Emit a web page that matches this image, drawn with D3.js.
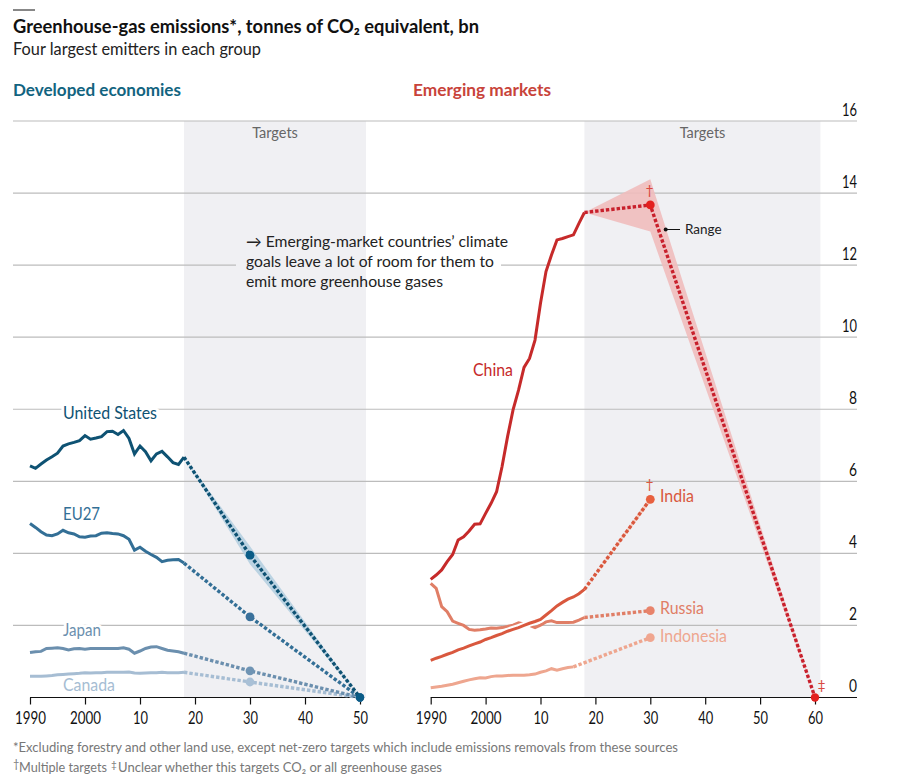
<!DOCTYPE html>
<html>
<head>
<meta charset="utf-8">
<script src="https://cdn.jsdelivr.net/npm/d3@7"></script>
<style>
  html, body { margin: 0; padding: 0; background: #fff; }
  svg { display: block; }
  text { font-family: "Lato", "Noto Sans", sans-serif; }
</style>
</head>
<body>
<div id="chart"></div>
<script>
var usValues = [6.43,6.36,6.48,6.59,6.68,6.78,6.98,7.04,7.08,7.13,7.27,7.17,7.20,7.24,7.38,7.39,7.30,7.41,7.19,6.76,6.98,6.82,6.57,6.76,6.83,6.68,6.52,6.47,6.67];
var euValues = [4.83,4.72,4.60,4.51,4.49,4.54,4.64,4.57,4.54,4.46,4.45,4.48,4.49,4.56,4.57,4.55,4.54,4.49,4.39,4.09,4.17,4.06,3.97,3.89,3.77,3.81,3.82,3.83,3.73];
var japanValues = [1.25,1.27,1.28,1.36,1.37,1.38,1.36,1.32,1.35,1.36,1.34,1.36,1.36,1.36,1.36,1.36,1.36,1.38,1.34,1.23,1.29,1.36,1.40,1.41,1.36,1.31,1.29,1.27,1.23];
var canadaValues = [0.59,0.59,0.59,0.60,0.61,0.63,0.64,0.65,0.66,0.67,0.69,0.68,0.69,0.69,0.70,0.70,0.70,0.70,0.71,0.68,0.67,0.68,0.69,0.69,0.70,0.69,0.69,0.69,0.70];
var chinaValues = [3.28,3.40,3.54,3.77,3.97,4.37,4.46,4.62,4.81,4.82,5.11,5.39,5.71,6.41,7.24,7.98,8.53,9.16,9.41,9.92,10.94,11.82,12.28,12.70,12.74,12.79,12.84,13.16,13.46];
var indiaValues = [1.03,1.09,1.14,1.20,1.25,1.32,1.37,1.43,1.49,1.54,1.61,1.66,1.72,1.77,1.84,1.89,1.94,2.00,2.06,2.11,2.17,2.29,2.41,2.54,2.64,2.73,2.79,2.88,3.00];
var russiaValues = [3.17,3.03,2.52,2.38,2.12,2.06,2.00,1.89,1.87,1.88,1.90,1.93,1.92,1.94,1.97,2.01,2.07,2.04,2.00,1.94,2.01,2.10,2.13,2.08,2.08,2.08,2.09,2.15,2.22];
var indonesiaValues = [0.27,0.29,0.31,0.34,0.37,0.41,0.45,0.49,0.52,0.55,0.54,0.58,0.60,0.60,0.61,0.62,0.62,0.62,0.63,0.65,0.70,0.74,0.80,0.76,0.80,0.83,0.85];

var startYear = 1990;
var targetStart = 2018;
var yTicks = [0,2,4,6,8,10,12,14,16];
var leftTicks = [1990,2000,2010,2020,2030,2040,2050];
var rightTicks = [1990,2000,2010,2020,2030,2040,2050,2060];

// target points: [year, value], and the [year, high, low] range
var developed = [
  {name:"Canada", values:canadaValues, targets:[[2030,0.43],[2050,0]], line:"#a6bdd3", dot:"#a9c0d6"},
  {name:"Japan", values:japanValues, targets:[[2030,0.74],[2050,0]], line:"#6b8fae", dot:"#6f94b4"},
  {name:"EU27", values:euValues, targets:[[2030,2.24],[2050,0]], line:"#336f96", dot:"#3a719b"},
  {name:"United States", values:usValues, targets:[[2030,3.95],[2050,0]], line:"#0e5273", dot:"#0a5c87",
   range:[[2018,6.67,6.67],[2030,4.2,3.7],[2050,0,0]], rangeFill:"#b5cfe0"}
];
var emerging = [
  {name:"Indonesia", values:indonesiaValues, targets:[[2030,1.66]], line:"#eea68f", dot:"#f0a690"},
  {name:"Russia", values:russiaValues, targets:[[2030,2.41]], line:"#e07e66", dot:"#e8836b"},
  {name:"India", values:indiaValues, targets:[[2030,5.50]], line:"#d9583e", dot:"#e8603f", halo:true,
   range:[[2018,3.00,3.00],[2030,5.58,5.42]], rangeFill:"#f5c6b8"},
  {name:"China", values:chinaValues, targets:[[2030,13.67],[2060,0]], line:"#c62a2a", dash:"#c8202c", dot:"#e3201f",
   range:[[2018,13.46,13.46],[2030,14.38,12.93],[2060,0,0]], rangeFill:"#f0bcbc"}
];

var width = 900, height = 781;
var svg = d3.select("#chart").append("svg").attr("width", width).attr("height", height);

var y = d3.scaleLinear().domain([0,16]).range([697.5,121]);
var xLeft = d3.scaleLinear().domain([1990,2050]).range([30,360]);
var xRight = d3.scaleLinear().domain([1990,2060]).range([430.7,815]);

// target bands
svg.append("rect").attr("x",xLeft(2018)).attr("width",182).attr("y",y(16)).attr("height",y(0)-y(16)).attr("fill","#f0f0f3");
svg.append("rect").attr("x",xRight(2018)).attr("width",236).attr("y",y(16)).attr("height",y(0)-y(16)).attr("fill","#f0f0f3");

// gridlines, the one at 12 stops for the annotation
var grid = svg.append("g").attr("stroke","#bcbcbc").attr("stroke-width",1.2);
yTicks.filter(function(d){ return d > 0; }).forEach(function(d){
  if (d == 12) {
    grid.append("line").attr("x1",13).attr("x2",236).attr("y1",y(d)).attr("y2",y(d));
    grid.append("line").attr("x1",501).attr("x2",857).attr("y1",y(d)).attr("y2",y(d));
  } else {
    grid.append("line").attr("x1",13).attr("x2",857).attr("y1",y(d)).attr("y2",y(d));
  }
});

var yAxis = svg.append("g").attr("transform","translate(857,0)")
  .call(d3.axisLeft(y).tickValues(yTicks).tickSize(0).tickPadding(0));
yAxis.select(".domain").remove();
yAxis.selectAll("text").attr("dy",-6).attr("font-size",17).attr("fill","#111")
  .style("font-family","Lato, sans-serif").style("font-weight",400)
  .attr("lengthAdjust","spacingAndGlyphs")
  .attr("textLength",function(d){ return d >= 10 ? 15 : 8; });

function tickFormat(d) {
  if (d == 1990 || d == 2000) return d;
  return String(d).slice(2);
}

function drawAxis(x, ticks, endX) {
  var g = svg.append("g").attr("transform","translate(0,"+y(0)+")")
    .call(d3.axisBottom(x).tickValues(ticks).tickFormat(tickFormat).tickSize(7).tickPadding(7));
  g.select(".domain").attr("stroke","#111").attr("stroke-width",1.2)
    .attr("d","M"+x.range()[0]+",0H"+endX);
  g.selectAll("line").attr("stroke","#111").attr("stroke-width",1.2);
  g.selectAll("text").attr("font-size",17).attr("fill","#111")
    .style("font-family","Lato, sans-serif").style("font-weight",400)
    .attr("lengthAdjust","spacingAndGlyphs")
    .attr("textLength",function(d){ return d <= 2000 ? 31 : 15; });
}
drawAxis(xLeft, leftTicks, 360);
drawAxis(xRight, rightTicks, 857);

function drawSeries(list, x) {
  var line = d3.line().x(function(d){ return x(d[0]); }).y(function(d){ return y(d[1]); });
  var area = d3.area().x(function(d){ return x(d[0]); })
    .y0(function(d){ return y(d[2]); }).y1(function(d){ return y(d[1]); });

  list.forEach(function(s){
    var hist = s.values.map(function(v,i){ return [startYear+i, v]; });
    var dashed = [hist[hist.length-1]].concat(s.targets);

    if (s.range) {
      svg.append("path").attr("d",area(s.range)).attr("fill",s.rangeFill).attr("fill-opacity",0.9);
    }
    if (s.halo) {
      svg.append("path").attr("d",line(hist)).attr("fill","none").attr("stroke","#fff").attr("stroke-width",7);
    }
    svg.append("path").attr("d",line(hist)).attr("fill","none").attr("stroke",s.line).attr("stroke-width",3);
    svg.append("path").attr("d",line(dashed)).attr("fill","none").attr("stroke",s.dash || s.line)
      .attr("stroke-width",3.4).attr("stroke-dasharray","3.4,2");
    s.targets.forEach(function(t){
      svg.append("circle").attr("cx",x(t[0])).attr("cy",y(t[1])).attr("r",t[1] == 0 ? 4.2 : 4.4).attr("fill",s.dot);
    });
  });
}
drawSeries(developed, xLeft);
drawSeries(emerging, xRight);

function label(str, px, py, size, color, weight, anchor, len) {
  var t = svg.append("text").attr("x",px).attr("y",py).attr("font-size",size).attr("fill",color)
    .attr("font-weight",weight || 400).attr("text-anchor",anchor || "start").text(str);
  if (len) t.attr("textLength",len).attr("lengthAdjust","spacingAndGlyphs");
  return t;
}

// short black rule and headings
svg.append("line").attr("x1",13).attr("x2",35).attr("y1",10).attr("y2",10).attr("stroke","#111").attr("stroke-width",1);
label("Greenhouse-gas emissions*, tonnes of CO₂ equivalent, bn",13,33,18.5,"#111",700,"start",466);
label("Four largest emitters in each group",13,55,16.5,"#222",400,"start",248);
label("Developed economies",13,96,17.5,"#12647f",700,"start",168);
label("Emerging markets",413,96,17.5,"#c8433a",700,"start",138);
label("Targets",275,138,14.5,"#666",400,"middle");
label("Targets",702.5,138,14.5,"#666",400,"middle");

// annotation
label("→ Emerging-market countries’ climate",246,247,15.5,"#222",400,"start",262);
label("goals leave a lot of room for them to",246,267,15.5,"#222",400,"start",248);
label("emit more greenhouse gases",246,287,15.5,"#222",400,"start",197);

// series names, the halo breaks the gridlines behind them
var names = [
  ["United States",63,419,"#0e5273",94,6],["EU27",63,520,"#336f96",37,0],
  ["Japan",63,636,"#6b8fae",38,6],["Canada",63,691,"#a6bdd3",52,0],
  ["China",473,376,"#c62a2a",40,0],["India",660,502,"#d9583e",34,0],
  ["Russia",660,614,"#e07e66",44,0],["Indonesia",660,642,"#eea68f",67,0]
];
names.forEach(function(n){
  label(n[0],n[1],n[2],16.5,n[3],400,"start",n[4])
    .attr("stroke","#fff").attr("stroke-width",n[5]).style("paint-order","stroke");
});

// range pointer
svg.append("line").attr("x1",665.7).attr("x2",680).attr("y1",229.5).attr("y2",229.5).attr("stroke","#111").attr("stroke-width",1);
svg.append("circle").attr("cx",665.7).attr("cy",229.5).attr("r",2).attr("fill","#111");
label("Range",685,233.5,13.5,"#222");

// dagger marks
label("†",649.5,195,14,"#d9483e",400,"middle");
label("†",649.5,489,14,"#d9583e",400,"middle");
label("‡",821.5,690,14,"#d9483e",400,"middle");

// footnotes
label("*Excluding forestry and other land use, except net-zero targets which include emissions removals from these sources",13,752,14,"#777",400,"start",665);
label("†",13,768,11,"#777");
label("Multiple targets",19,772,13,"#777",400,"start",88);
label("‡",111,768,10,"#777");
label("Unclear whether this targets CO₂ or all greenhouse gases",118,772,14,"#777",400,"start",324);
</script>
</body>
</html>
